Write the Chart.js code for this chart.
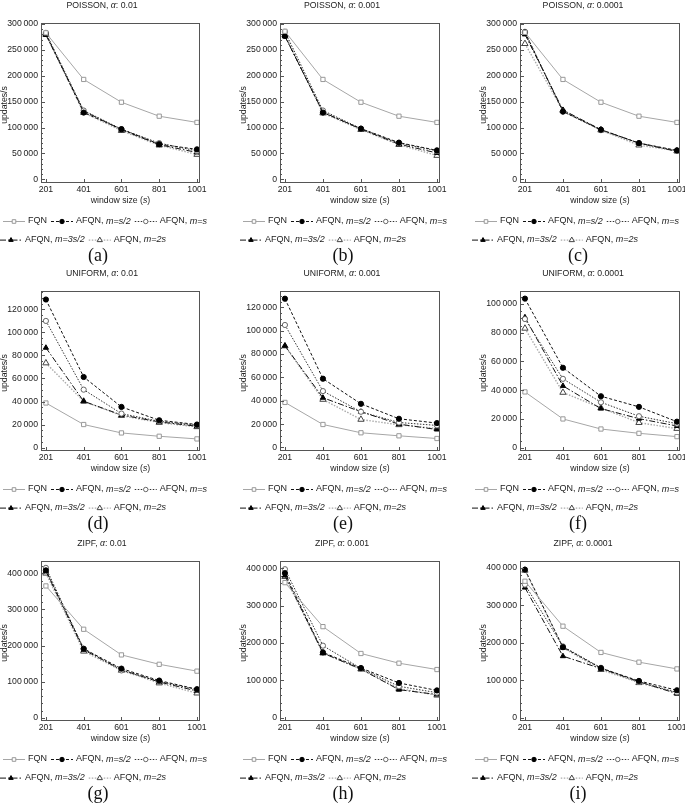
<!DOCTYPE html>
<html>
<head>
<meta charset="utf-8">
<script src="https://cdn.jsdelivr.net/npm/chart.js@4.4.1/dist/chart.umd.min.js"></script>
<style>
  body { margin: 0; background: #fff; width: 685px; height: 808px; overflow: hidden; position: relative; }
  canvas { position: absolute; }
</style>
</head>
<body>
<script>
const windowSizes = [201, 401, 601, 801, 1001];
const seriesNames = ['FQN', 'AFQN, m=s/2', 'AFQN, m=s', 'AFQN, m=3s/2', 'AFQN, m=2s'];
const distributions = ['POISSON', 'UNIFORM', 'ZIPF'];
const alphas = ['0.01', '0.001', '0.0001'];
const captions = ['(a)', '(b)', '(c)', '(d)', '(e)', '(f)', '(g)', '(h)', '(i)'];

// rows: FQN, m=s/2, m=s, m=3s/2, m=2s
const poisson01 = [
  [283000, 193000, 149000, 122000, 110000],
  [281000, 129000, 97000, 68000, 58000],
  [283000, 133000, 97000, 70000, 55000],
  [279000, 132000, 96000, 67000, 52000],
  [280000, 129000, 94000, 66000, 48000]
];
const poisson001 = [
  [286000, 193000, 149000, 122000, 110000],
  [277000, 129000, 98000, 71000, 56000],
  [285000, 133000, 98000, 70000, 55000],
  [276000, 130000, 97000, 68000, 51000],
  [279000, 128000, 96000, 67000, 46000]
];
const poisson0001 = [
  [284000, 193000, 149000, 122000, 110000],
  [284000, 131000, 96000, 70000, 56000],
  [285000, 131000, 95000, 70000, 55000],
  [280000, 134000, 96000, 70000, 54000],
  [262000, 133000, 95000, 66000, 55000]
];
const uniform01 = [
  [38700, 20000, 12700, 9800, 7500],
  [128600, 61300, 35300, 23700, 20000],
  [110000, 50300, 29500, 22800, 19400],
  [86700, 40200, 28300, 22300, 18500],
  [73400, 40200, 27700, 21700, 18000]
];
const uniform001 = [
  [38600, 19700, 12600, 10000, 7700],
  [127400, 58900, 37400, 24600, 20900],
  [104900, 48300, 30600, 21400, 18900],
  [87100, 42600, 30600, 20000, 15400],
  [86900, 41100, 24000, 19400, 16300]
];
const uniform0001 = [
  [38800, 20000, 13000, 10000, 7700],
  [103700, 55600, 35800, 28400, 18100],
  [89500, 47900, 31600, 21900, 16700],
  [90700, 43000, 27200, 20200, 15100],
  [83000, 38400, 27700, 17400, 13300]
];
const zipf01 = [
  [365000, 245000, 174000, 148000, 129000],
  [408000, 191000, 136000, 103000, 79000],
  [415000, 191000, 131000, 101000, 77600],
  [406000, 188000, 133000, 99000, 74000],
  [400000, 184000, 131000, 96000, 68000]
];
const zipf001 = [
  [362000, 244000, 172000, 146000, 129000],
  [387500, 175000, 133000, 93000, 73000],
  [398000, 193000, 132000, 84000, 67000],
  [381000, 173000, 130000, 75000, 62000],
  [378000, 173000, 130000, 78000, 60000]
];
const zipf0001 = [
  [364000, 244000, 174000, 148000, 130000],
  [395000, 188000, 132000, 98000, 73000],
  [355000, 190000, 133000, 95000, 67500],
  [347000, 164000, 131000, 96000, 64000],
  [393000, 187000, 128000, 93000, 66000]
];

const panelData = [poisson01, poisson001, poisson0001, uniform01, uniform001, uniform0001, zipf01, zipf001, zipf0001];
const yMins = [-7000, -7000, -7000, -3000, -3000, -2300, -9000, -9000, -9000];
const yMaxs = [302000, 302000, 302000, 136000, 134000, 109000, 434000, 420000, 418000];
const ySteps = [50000, 50000, 50000, 20000, 20000, 20000, 100000, 100000, 100000];
const yMinorDiv = [5, 5, 5, 4, 4, 4, 5, 5, 5];

// panel geometry
const plotLefts = [41, 280, 520];
const plotWidths = [159, 160, 160];
const plotTops = [23, 291, 561];
const legendShift = [-38, -37, -45];
const titleShift = [61, 62, 63];
const captionShift = [57, 63, 58];
const plotH = 160;
const padTop = 26, axisW = 50, padRight = 12, below = 85, xAxisH = 12;

const sans = '"Liberation Sans", Arial, sans-serif';
const serif = '"Liberation Serif", "DejaVu Serif", serif';

const styles = [
  { borderColor: '#a6a6a6', borderDash: [], borderWidth: 1, pointStyle: 'rect', pointRadius: 3, pointBackgroundColor: '#fff', pointBorderColor: '#999', pointBorderWidth: 1 },
  { borderColor: '#111', borderDash: [3, 2], borderWidth: 1, pointStyle: 'circle', pointRadius: 2.6, pointBackgroundColor: '#000', pointBorderColor: '#000', pointBorderWidth: 1 },
  { borderColor: '#333', borderDash: [1.5, 1.5], borderWidth: 1, pointStyle: 'circle', pointRadius: 2.6, pointBackgroundColor: '#fff', pointBorderColor: '#666', pointBorderWidth: 1 },
  { borderColor: '#111', borderDash: [6, 2, 1.5, 2], borderWidth: 1, pointStyle: 'triangle', pointRadius: 3, pointBackgroundColor: '#000', pointBorderColor: '#000', pointBorderWidth: 1 },
  { borderColor: '#aaa', borderDash: [1.5, 1.5], borderWidth: 1.4, pointStyle: 'triangle', pointRadius: 3.6, pointBackgroundColor: '#fff', pointBorderColor: '#444', pointBorderWidth: 1 }
];

// legend text split into upright / italic pieces
const legendParts = [
  [['FQN', false]],
  [['AFQN, ', false], ['m=s/2', true]],
  [['AFQN, ', false], ['m=s', true]],
  [['AFQN, ', false], ['m=3s/2', true]],
  [['AFQN, ', false], ['m=2s', true]]
];
const legendRows = [[0, 1, 2], [3, 4]];

function fmt(v) {
  return String(v).replace(/\B(?=(\d{3})+(?!\d))/g, '\u2009');
}

function richText(ctx, parts, x, y, size, align) {
  let w = 0;
  parts.forEach(p => {
    ctx.font = (p[1] ? 'italic ' : '') + size + 'px ' + sans;
    w += ctx.measureText(p[0]).width;
  });
  let cx = align === 'center' ? x - w / 2 : x;
  ctx.textAlign = 'left';
  ctx.textBaseline = 'middle';
  parts.forEach(p => {
    ctx.font = (p[1] ? 'italic ' : '') + size + 'px ' + sans;
    ctx.fillText(p[0], cx, y);
    cx += ctx.measureText(p[0]).width;
  });
  return w;
}

const framePlugin = {
  id: 'frame',
  afterDraw(chart, args, opts) {
    const ctx = chart.ctx;
    const a = chart.chartArea;
    const ys = chart.scales.y, xs = chart.scales.x;
    ctx.save();
    ctx.fillStyle = '#222';
    ctx.strokeStyle = '#555';
    ctx.lineWidth = 1;
    ctx.strokeRect(a.left + 0.5, a.top + 0.5, a.right - a.left - 1, a.bottom - a.top - 1);

    // inward ticks
    ctx.beginPath();
    const step = opts.step, minor = step / opts.minorDiv;
    for (let v = 0; v <= ys.max; v += minor) {
      const py = Math.round(ys.getPixelForValue(v)) + 0.5;
      const len = Math.abs(v % step) < 1 ? 4 : 2;
      ctx.moveTo(a.left, py); ctx.lineTo(a.left + len, py);
    }
    windowSizes.forEach(v => {
      const px = Math.round(xs.getPixelForValue(v)) + 0.5;
      ctx.moveTo(px, a.bottom); ctx.lineTo(px, a.bottom - 4);
    });
    ctx.stroke();

    // title
    richText(ctx, [[opts.dist + ', ', false], ['α', true], [': ' + opts.alpha, false]], a.left + opts.titleX, a.top - 17.5, 8.7, 'center');
    // x title
    richText(ctx, [['window size (', false], ['s', true], [')', false]], (a.left + a.right) / 2, a.bottom + 18, 8.7, 'center');
    // y title
    ctx.save();
    ctx.translate(a.left - 36, a.top + 82);
    ctx.rotate(-Math.PI / 2);
    richText(ctx, [['updates/s', false]], 0, 0, 8.7, 'center');
    ctx.restore();

    // legend
    legendRows.forEach((row, r) => {
      let x = a.left + opts.legendX - (r ? 3 : 0);
      const y = a.bottom + 38 + r * 18.6;
      row.forEach(k => {
        const ds = chart.data.datasets[k];
        ctx.save();
        ctx.strokeStyle = ds.borderColor;
        ctx.lineWidth = ds.borderWidth;
        ctx.setLineDash(ds.borderDash);
        ctx.beginPath();
        ctx.moveTo(x, y + 0.5); ctx.lineTo(x + 22, y + 0.5);
        ctx.stroke();
        ctx.restore();
        ctx.save();
        ctx.fillStyle = ds.pointBackgroundColor;
        ctx.strokeStyle = ds.pointBorderColor;
        ctx.lineWidth = ds.pointBorderWidth;
        Chart.helpers.drawPoint(ctx, { pointStyle: ds.pointStyle, radius: ds.pointRadius * 0.85, borderWidth: ds.pointBorderWidth, rotation: 0 }, x + 11, y + 0.5);
        ctx.restore();
        x += 25;
        ctx.fillStyle = '#222';
        x += richText(ctx, legendParts[k], x, y, 9, 'left') + 4;
      });
    });

    // caption
    ctx.font = '18px ' + serif;
    ctx.textAlign = 'center';
    ctx.textBaseline = 'middle';
    ctx.fillStyle = '#111';
    ctx.fillText(opts.caption, a.left + opts.captionX, a.bottom + 73.5);
    ctx.restore();
  }
};

panelData.forEach((series, p) => {
  const row = Math.floor(p / 3), col = p % 3;
  const plotW = plotWidths[col];
  const W = axisW + plotW + padRight;
  const H = padTop + plotH + below;
  const canvas = document.createElement('canvas');
  canvas.width = W; canvas.height = H;
  canvas.style.width = W + 'px'; canvas.style.height = H + 'px';
  canvas.style.left = (plotLefts[col] - axisW) + 'px';
  canvas.style.top = (plotTops[row] - padTop) + 'px';
  document.body.appendChild(canvas);

  const yTicks = [];
  for (let v = 0; v <= yMaxs[p]; v += ySteps[p]) yTicks.push(v);

  new Chart(canvas, {
    type: 'line',
    data: {
      datasets: series.map((vals, k) => Object.assign({
        label: seriesNames[k],
        data: windowSizes.map((x, i) => ({ x: x, y: vals[i] })),
        fill: false,
        tension: 0
      }, styles[k]))
    },
    options: {
      animation: false,
      responsive: false,
      devicePixelRatio: 1,
      layout: { padding: { left: 0, right: padRight, top: padTop, bottom: below - xAxisH } },
      plugins: {
        legend: { display: false },
        tooltip: { enabled: false },
        frame: {
          dist: distributions[row], alpha: alphas[col], caption: captions[p],
          step: ySteps[p], minorDiv: yMinorDiv[p],
          legendX: legendShift[col], titleX: titleShift[col], captionX: captionShift[col]
        }
      },
      scales: {
        x: {
          type: 'linear', min: 175, max: 1017,
          afterBuildTicks: s => { s.ticks = windowSizes.map(v => ({ value: v })); },
          afterFit: s => { s.height = xAxisH; },
          grid: { display: false, drawTicks: false },
          border: { display: false },
          ticks: { font: { family: sans, size: 8.7 }, color: '#222', padding: 1, maxRotation: 0, autoSkip: false, callback: v => String(v) }
        },
        y: {
          min: yMins[p], max: yMaxs[p],
          afterBuildTicks: s => { s.ticks = yTicks.map(v => ({ value: v })); },
          afterFit: s => { s.width = axisW; },
          grid: { display: false, drawTicks: false },
          border: { display: false },
          ticks: { font: { family: sans, size: 8.7 }, color: '#222', padding: 3, callback: v => fmt(v) }
        }
      }
    },
    plugins: [framePlugin]
  });
});
</script>
</body>
</html>
